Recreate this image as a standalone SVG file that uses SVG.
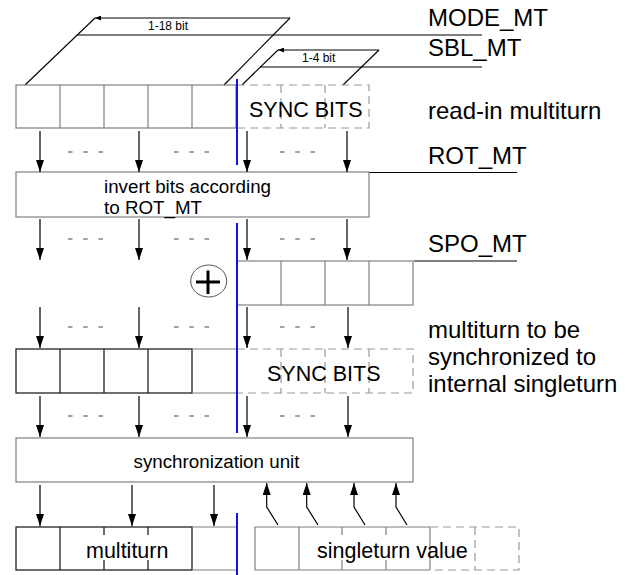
<svg xmlns="http://www.w3.org/2000/svg" width="631" height="575" viewBox="0 0 631 575">
<style>
text{font-family:"Liberation Sans",Arial,sans-serif;fill:#000}
.lbl{font-size:24px}
.big{font-size:21.5px}
.mid{font-size:18.8px}
.sm{font-size:12px}
.cell{fill:none;stroke:#808080;stroke-width:1.2}
.dark{fill:none;stroke:#222;stroke-width:1.3}
.dash{fill:none;stroke:#999;stroke-width:1.2;stroke-dasharray:8,5}
.ln{fill:none;stroke:#000;stroke-width:1.1}
.arr{fill:none;stroke:#000;stroke-width:1.2;marker-end:url(#ah)}
.dots{stroke:#444;stroke-width:1.2;stroke-dasharray:4.5,10.75}
.blue{stroke:#1010f0;stroke-width:2}
</style>
<defs>
<marker id="ah" markerUnits="userSpaceOnUse" markerWidth="12" markerHeight="8" refX="12" refY="4" orient="auto"><path d="M0,0 L12,4 L0,8 z" fill="#000"/></marker>
<marker id="sh" markerUnits="userSpaceOnUse" markerWidth="6" markerHeight="5" refX="6" refY="2.5" orient="auto"><path d="M0,0 L6,2.5 L0,5 z" fill="#000"/></marker>
</defs>
<rect width="631" height="575" fill="#fff"/>

<g id="bitwidth">
<path class="ln" d="M25,85 L95,18"/>
<path class="ln" d="M224,85 L290,18"/>
<line class="ln" x1="290" y1="18" x2="95" y2="18" marker-end="url(#sh)"/>
<line class="ln" x1="77" y1="35" x2="482" y2="35"/>
<text class="sm" x="148" y="30">1-18 bit</text>
<path class="ln" d="M242,85 L278,50"/>
<path class="ln" d="M343,85 L379,50"/>
<line class="ln" x1="379" y1="50" x2="278" y2="50" marker-end="url(#sh)"/>
<line class="ln" x1="260" y1="67" x2="482" y2="67"/>
<text class="sm" x="302" y="62">1-4 bit</text>
</g>

<g id="labels">
<text class="lbl" x="428" y="26">MODE_MT</text>
<text class="lbl" x="428" y="56">SBL_MT</text>
<text class="lbl" x="428" y="119">read-in multiturn</text>
<text class="lbl" x="428" y="164">ROT_MT</text>
<line class="ln" x1="369" y1="172.5" x2="517" y2="172.5"/>
<text class="lbl" x="428" y="252">SPO_MT</text>
<line class="ln" x1="414" y1="261" x2="517" y2="261"/>
<text class="lbl" x="428" y="338">multiturn to be</text>
<text class="lbl" x="428" y="365">synchronized to</text>
<text class="lbl" x="428" y="392">internal singleturn</text>
</g>

<g id="readin">
<rect class="cell" x="16" y="85" width="220" height="43"/>
<path class="cell" d="M60,85V128M104,85V128M148,85V128M192,85V128"/>
<rect class="dash" x="237" y="85" width="132" height="43"/>
<path class="dash" d="M281,85V128M325,85V128"/>
<text class="big" x="249" y="117">SYNC BITS</text>
</g>

<g id="invert">
<rect class="cell" x="16" y="172" width="353" height="45"/>
<text class="mid" x="104" y="193">invert bits according</text>
<text class="mid" x="104" y="214">to ROT_MT</text>
</g>

<g id="xor">
<ellipse cx="208.7" cy="281" rx="18" ry="16" fill="none" stroke="#555" stroke-width="1"/>
<path d="M196,282H220M208,270.5V294" stroke="#000" stroke-width="3" fill="none"/>
</g>

<g id="spo">
<rect class="cell" x="237" y="261" width="176" height="44"/>
<path class="cell" d="M281,261V305M325,261V305M369,261V305"/>
</g>

<g id="tosync">
<rect class="dark" x="16" y="349" width="176" height="44"/>
<path class="dark" d="M60,349V393M104,349V393M148,349V393"/>
<path class="cell" d="M192,349H237M192,393H237"/>
<rect class="dash" x="237" y="349" width="176" height="44"/>
<path class="dash" d="M281,349V393M325,349V393M369,349V393"/>
<text class="big" x="267" y="381">SYNC BITS</text>
</g>

<g id="syncunit">
<rect class="cell" x="16" y="438" width="397" height="44"/>
<text class="mid" x="216.5" y="468" text-anchor="middle">synchronization unit</text>
</g>

<g id="multiturn">
<rect class="dark" x="16" y="527" width="176" height="43"/>
<path class="dark" d="M60,527V570M104,527V535M104,560V570M148,527V535M148,560V570"/>
<path class="cell" d="M192,527H237M192,570H237"/>
<text class="big" x="86" y="558">multiturn</text>
</g>

<g id="singleturn">
<path class="cell" d="M430,527H255V570H430M255,527V570M299,527V570M342,527V535M342,560V570M386,527V535M386,560V570M430,527V570"/>
<path class="dash" d="M430,527H519V570H430M475,527V570"/>
<text class="big" x="317" y="558">singleturn value</text>
</g>

<g id="connectors">
<line class="arr" x1="40" y1="131" x2="40" y2="172"/>
<line class="arr" x1="139" y1="131" x2="139" y2="172"/>
<line class="arr" x1="247" y1="131" x2="247" y2="172"/>
<line class="arr" x1="347" y1="131" x2="347" y2="172"/>
<line class="arr" x1="40" y1="219" x2="40" y2="260"/>
<line class="arr" x1="139" y1="219" x2="139" y2="260"/>
<line class="arr" x1="247" y1="219" x2="247" y2="260"/>
<line class="arr" x1="347" y1="219" x2="347" y2="260"/>
<line class="arr" x1="40" y1="307" x2="40" y2="348"/>
<line class="arr" x1="139" y1="307" x2="139" y2="348"/>
<line class="arr" x1="247" y1="307" x2="247" y2="348"/>
<line class="arr" x1="348" y1="307" x2="348" y2="348"/>
<line class="arr" x1="40" y1="396" x2="40" y2="437"/>
<line class="arr" x1="139" y1="396" x2="139" y2="437"/>
<line class="arr" x1="247" y1="396" x2="247" y2="437"/>
<line class="arr" x1="348" y1="396" x2="348" y2="437"/>
<line class="arr" x1="40" y1="485" x2="40" y2="526"/>
<line class="arr" x1="132" y1="485" x2="132" y2="526"/>
<line class="arr" x1="214" y1="485" x2="214" y2="526"/>
<path class="arr" d="M278,525L266.7,507V483"/>
<path class="arr" d="M318,525L306.7,507V483"/>
<path class="arr" d="M365,525L354,507V483"/>
<path class="arr" d="M407,525L396,507V483"/>
<path class="dots" d="M68,152H104M174,152H210M280,152H316"/>
<path class="dots" d="M68,239H104M174,239H210M280,239H316"/>
<path class="dots" d="M68,327H104M174,327H210M280,327H316"/>
<path class="dots" d="M68,416H104M174,416H210M280,416H316"/>
<path class="blue" d="M237,79V165M237,223V433M237,513V575"/>
</g>
</svg>
